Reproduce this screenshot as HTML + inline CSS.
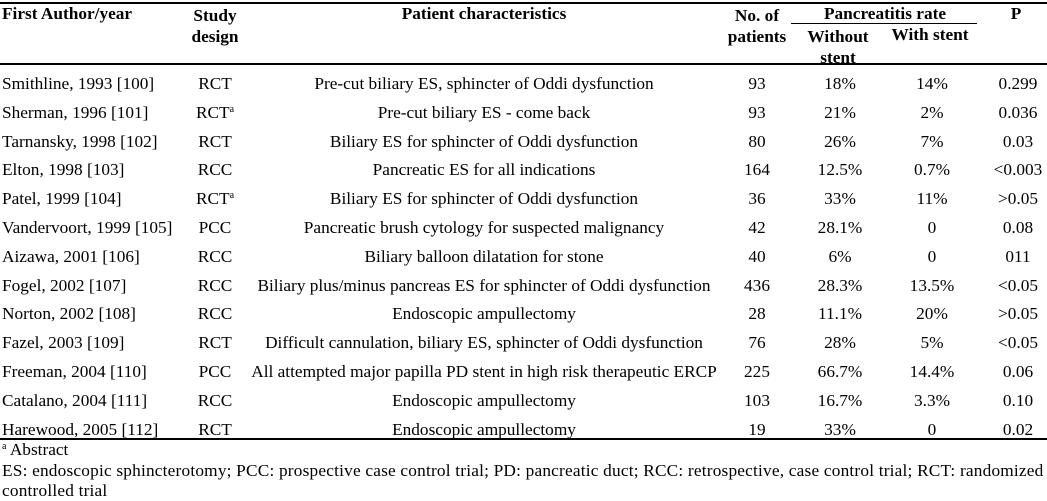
<!DOCTYPE html>
<html><head><meta charset="utf-8"><style>
body{margin:0;width:1047px;height:501px;background:#fff;position:relative;overflow:hidden;font-family:"Liberation Serif",serif;font-size:17.3px;color:#000}
.t{position:absolute;white-space:nowrap;line-height:18px}
.c{transform:translateX(-50%)}
.b{font-weight:bold}
.r{position:absolute;left:0;width:1047px;height:1.5px;background:#000}
sup{font-size:10px;vertical-align:top;position:relative;top:-3px}
</style></head><body>
<div class="r" style="top:2px"></div>
<div class="r" style="top:63px"></div>
<div class="r" style="top:438px"></div>
<div style="position:absolute;left:791px;top:23px;width:186px;height:1px;background:#000"></div>
<div class="t b" style="left:2px;top:5px">First Author/year</div>
<div class="t b c" style="left:215px;top:5px;text-align:center;line-height:21px">Study<br>design</div>
<div class="t b c" style="left:484px;top:5px">Patient characteristics</div>
<div class="t b c" style="left:757px;top:5px;text-align:center;line-height:21px">No. of<br>patients</div>
<div class="t b c" style="left:885px;top:5px">Pancreatitis rate</div>
<div class="t b c" style="left:838px;top:26px;text-align:center;line-height:21px">Without<br>stent</div>
<div class="t b c" style="left:930px;top:26px">With stent</div>
<div class="t b c" style="left:1016px;top:5px">P</div>
<div id="rows"></div>
<div class="t" style="left:2px;top:441px"><sup>a</sup> Abstract</div>
<div class="t" style="left:2px;top:462px;letter-spacing:0.2px">ES: endoscopic sphincterotomy; PCC: prospective case control trial; PD: pancreatic duct; RCC: retrospective, case control trial; RCT: randomized</div>
<div class="t" style="left:2px;top:482px;letter-spacing:0.2px">controlled trial</div>
<script>
var d=[["Smithline, 1993 [100]","RCT","Pre-cut biliary ES, sphincter of Oddi dysfunction","93","18%","14%","0.299"],
["Sherman, 1996 [101]","RCT<sup>a</sup>","Pre-cut biliary ES - come back","93","21%","2%","0.036"],
["Tarnansky, 1998 [102]","RCT","Biliary ES for sphincter of Oddi dysfunction","80","26%","7%","0.03"],
["Elton, 1998 [103]","RCC","Pancreatic ES for all indications","164","12.5%","0.7%","&lt;0.003"],
["Patel, 1999 [104]","RCT<sup>a</sup>","Biliary ES for sphincter of Oddi dysfunction","36","33%","11%","&gt;0.05"],
["Vandervoort, 1999 [105]","PCC","Pancreatic brush cytology for suspected malignancy","42","28.1%","0","0.08"],
["Aizawa, 2001 [106]","RCC","Biliary balloon dilatation for stone","40","6%","0","011"],
["Fogel, 2002 [107]","RCC","Biliary plus/minus pancreas ES for sphincter of Oddi dysfunction","436","28.3%","13.5%","&lt;0.05"],
["Norton, 2002 [108]","RCC","Endoscopic ampullectomy","28","11.1%","20%","&gt;0.05"],
["Fazel, 2003 [109]","RCT","Difficult cannulation, biliary ES, sphincter of Oddi dysfunction","76","28%","5%","&lt;0.05"],
["Freeman, 2004 [110]","PCC","All attempted major papilla PD stent in high risk therapeutic ERCP","225","66.7%","14.4%","0.06"],
["Catalano, 2004 [111]","RCC","Endoscopic ampullectomy","103","16.7%","3.3%","0.10"],
["Harewood, 2005 [112]","RCT","Endoscopic ampullectomy","19","33%","0","0.02"]];
var xs=[null,215,484,757,840,932,1018],h="";
d.forEach(function(r,i){var y=75+i*28.8;
h+='<div class="t" style="left:2px;top:'+y+'px">'+r[0]+'</div>';
for(var j=1;j<7;j++)h+='<div class="t c" style="left:'+xs[j]+'px;top:'+y+'px">'+r[j]+'</div>';});
document.getElementById("rows").innerHTML=h;
</script>
</body></html>
